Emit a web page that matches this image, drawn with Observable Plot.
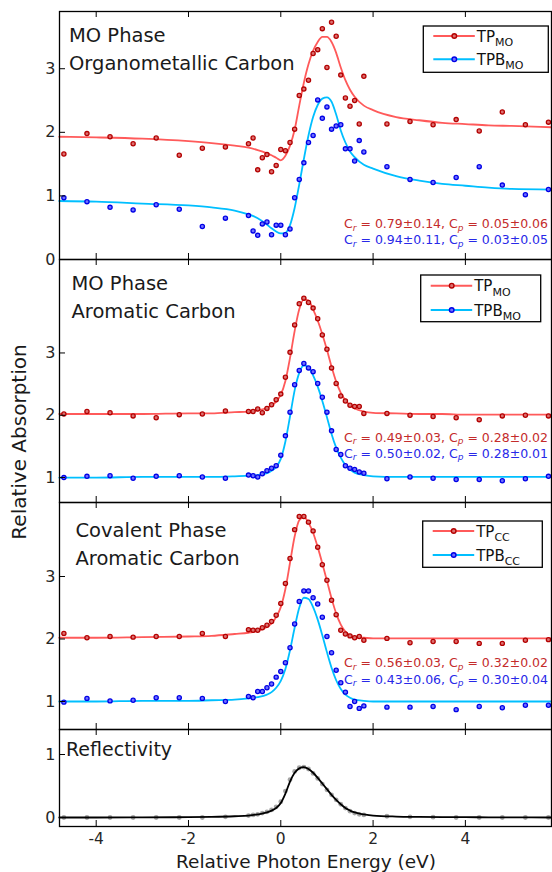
<!DOCTYPE html>
<html><head><meta charset="utf-8">
<script src="https://cdn.jsdelivr.net/npm/d3@7"></script>
<script src="https://cdn.jsdelivr.net/npm/@observablehq/plot@0.6"></script>
<style>
body{margin:0;background:#fff;}
#wrap{position:relative;width:552px;height:872px;overflow:hidden;font-family:"DejaVu Sans",sans-serif;background:#fff;}
</style></head><body><div id="wrap"></div>
<script>
// ---------- data ----------
const energy = [-4.7,-4.2,-3.7,-3.2,-2.7,-2.2,-1.7,-1.2,
  -0.7,-0.6,-0.5,-0.4,-0.3,-0.2,-0.1,0,0.1,0.2,0.3,0.4,0.5,0.6,0.7,0.8,0.9,1.0,1.1,1.2,1.3,1.4,1.5,1.6,1.7,1.8,
  2.3,2.8,3.3,3.8,4.3,4.8,5.3,5.8];
const tpMO_org  = [1.66,1.98,1.93,1.82,1.91,1.64,1.75,1.77, 1.82,1.91,1.41,1.60,1.65,1.38,1.48,1.73,1.71,1.84, 2.05,2.58,2.68,2.82,3.24,3.30,3.63,3.02,3.73,3.51, 2.90,2.54,2.41,2.50,2.13,2.88, 2.13,2.17,2.12,2.20,2.02,2.32,2.12,2.16];
const tpbMO_org = [0.97,0.91,0.82,0.78,0.86,0.79,0.52,0.65, 0.69,0.45,0.38,0.56,0.59,0.39,0.54,0.54,0.39,0.48, 0.97,1.26,1.52,1.84,1.95,2.51,2.22,2.40,2.05,2.10, 2.12,1.74,1.74,1.55,1.87,1.69, 1.46,1.26,1.21,1.29,1.46,1.17,1.02,1.10];
const tpMO_aro  = [2.02,2.06,2.04,1.99,1.96,2.01,2.02,2.07, 2.06,2.06,2.10,2.04,2.11,2.17,2.25,2.34,2.61,3.01, 3.45,3.79,3.88,3.81,3.72,3.55,3.29,3.06,2.76,2.51, 2.31,2.23,2.16,2.14,2.14,2.03, 2.03,2.00,1.98,1.96,1.93,1.99,2.00,1.99];
const tpbMO_aro = [1.00,1.02,1.03,0.99,1.02,1.03,1.01,0.99, 1.04,1.03,1.01,1.06,1.11,1.15,1.19,1.36,1.67,2.05, 2.49,2.72,2.83,2.76,2.70,2.51,2.29,2.05,1.75,1.45, 1.37,1.19,1.15,1.13,1.09,1.07, 0.98,1.01,0.99,0.97,0.97,0.95,0.98,1.02];
const tpCC_aro  = [2.09,2.02,2.04,2.03,2.04,2.04,2.09,2.04, 2.15,2.14,2.14,2.18,2.22,2.28,2.38,2.57,2.89,3.29, 3.75,3.96,3.96,3.87,3.73,3.47,3.19,2.94,2.62,2.39, 2.14,2.08,2.05,2.02,2.04,1.98, 2.01,1.94,1.96,1.96,1.93,1.93,1.98,1.99];
const tpbCC_aro = [0.99,1.05,1.01,1.02,1.06,1.06,1.05,1.00, 1.08,1.06,1.16,1.16,1.22,1.28,1.39,1.48,1.62,1.86, 2.24,2.60,2.77,2.77,2.66,2.56,2.35,2.04,1.78,1.50, 1.30,1.15,0.92,1.00,0.89,0.93, 0.91,0.91,0.92,0.87,0.92,0.90,0.94,0.94];
const reflectivity = [0,0,0,0,0,0,0,0.01, 0.03,0.04,0.05,0.07,0.09,0.12,0.17,0.25,0.42,0.60, 0.73,0.79,0.80,0.77,0.70,0.62,0.53,0.44,0.36,0.28, 0.21,0.15,0.10,0.07,0.05,0.04, 0.02,0.01,0.005,0,0,0,0,0];

const fitEnergy = [-4.8,-4,-3,-2,-1.5,-1, -0.7,-0.5,-0.3,-0.2,-0.1,
  0,0.1,0.2,0.3,0.4,0.5,0.6,0.7,0.8,0.9,1.0,1.1,1.2,1.3,1.4,1.5,1.6,
  1.8,2.0,2.5,3,3.5,4,4.5,5,5.86];
const tpMO_org_fit  = [1.93,1.92,1.90,1.86,1.83,1.79, 1.76,1.72,1.67,1.64,1.60, 1.56,1.63,1.79,2.04,2.42,2.78,3.07,3.28,3.42,3.50,3.50,3.42,3.25,3.02,2.82,2.67,2.56, 2.42,2.35,2.24,2.19,2.15,2.13,2.11,2.10,2.08];
const tpbMO_org_fit = [0.92,0.91,0.88,0.85,0.82,0.77, 0.71,0.65,0.55,0.49,0.44, 0.41,0.42,0.54,0.81,1.18,1.58,1.95,2.24,2.43,2.53,2.55,2.48,2.28,2.03,1.84,1.70,1.61, 1.49,1.43,1.31,1.24,1.19,1.16,1.13,1.11,1.10];
const tpMO_aro_fit  = [2.02,2.02,2.02,2.03,2.03,2.05, 2.06,2.08,2.12,2.16,2.22, 2.33,2.55,2.92,3.35,3.70,3.86,3.84,3.70,3.52,3.30,3.05,2.78,2.54,2.36,2.24,2.16,2.11, 2.06,2.04,2.03,2.02,2.02,2.01,2.01,2.01,2.01];
const tpbMO_aro_fit = [1.00,1.00,1.01,1.01,1.01,1.02, 1.03,1.04,1.07,1.11,1.17, 1.30,1.58,1.98,2.40,2.68,2.80,2.77,2.64,2.46,2.23,1.97,1.70,1.48,1.32,1.20,1.13,1.08, 1.04,1.02,1.01,1.01,1.01,1.01,1.01,1.01,1.01];
const tpCC_aro_fit  = [2.02,2.02,2.03,2.04,2.05,2.08, 2.10,2.13,2.19,2.25,2.35, 2.51,2.80,3.22,3.64,3.90,3.95,3.86,3.70,3.47,3.21,2.93,2.65,2.41,2.23,2.12,2.06,2.03, 2.02,2.01,2.01,2.01,2.01,2.01,2.01,2.01,2.01];
const tpbCC_aro_fit = [1.00,1.00,1.01,1.01,1.02,1.03, 1.05,1.07,1.11,1.15,1.22, 1.33,1.52,1.82,2.18,2.50,2.66,2.64,2.51,2.31,2.06,1.79,1.54,1.34,1.20,1.11,1.06,1.03, 1.01,1.00,1.00,1.00,1.00,1.00,1.00,1.00,1.00];
const reflectivity_fit = [0,0,0.002,0.005,0.01,0.02, 0.03,0.05,0.08,0.11,0.15, 0.23,0.38,0.57,0.71,0.78,0.80,0.77,0.71,0.63,0.54,0.45,0.36,0.28,0.21,0.15,0.11,0.08, 0.05,0.03,0.015,0.01,0.007,0.005,0.003,0.002,0];

const xTicks = [-4,-2,0,2,4];
const xDomain = [-4.795, 5.866];

// ---------- styles ----------
const RED_LINE = "#ff5a5a", BLUE_LINE = "#00bfff";
const RED_DOT = "#b30000", BLUE_DOT = "#0000e6";
const RED_FILL = "#dc7070", BLUE_FILL = "#7070ff";
const RED_TXT = "#c42b2b", BLUE_TXT = "#2828e8";

const pts = (ys) => energy.map((x, i) => ({x, y: ys[i]}));
const fit = (ys) => fitEnergy.map((x, i) => ({x, y: ys[i]}));

const wrap = document.getElementById("wrap");

function panel(cfg) {
  const W = 552, ml = 59, mr = 1;
  const innerW = W - ml - mr;
  const innerH = cfg.height - cfg.mt - cfg.mb;
  const marks = [];
  for (const s of cfg.fits) marks.push(Plot.line(fit(s.ys), {x: "x", y: "y", stroke: s.color, strokeWidth: 1.8, curve: "monotone-x"}));
  for (const s of cfg.dots) marks.push(Plot.dot(pts(s.ys), {x: "x", y: "y", r: s.r, stroke: s.stroke, fill: s.fill, strokeWidth: s.sw}));
  for (const s of (cfg.topFits || [])) marks.push(Plot.line(fit(s.ys), {x: "x", y: "y", stroke: s.color, strokeWidth: 1.8, curve: "monotone-x"}));
  marks.push(Plot.tickY(cfg.yTicks, {y: d => d, insetRight: innerW - 6, stroke: "#000"}));
  marks.push(Plot.tickX(xTicks, {x: d => d, insetBottom: innerH - 6, stroke: "#000"}));
  marks.push(Plot.tickX(xTicks, {x: d => d, insetTop: innerH - 6, stroke: "#000"}));
  marks.push(Plot.axisY(cfg.yTicks, {tickSize: 0, tickPadding: 4, fontSize: 16, color: "#262626", label: null, tickFormat: d => String(d)}));
  if (cfg.xAxis) marks.push(Plot.axisX(xTicks, {tickSize: 0, tickPadding: 6, fontSize: 15.5, color: "#262626", label: null, tickFormat: d => String(d)}));
  marks.push(Plot.frame({stroke: "#000", strokeWidth: 1.3}));
  const svg = Plot.plot({
    width: W, height: cfg.height,
    marginLeft: ml, marginRight: mr, marginTop: cfg.mt, marginBottom: cfg.mb,
    x: {domain: xDomain, axis: cfg.xAxis ? undefined : null},
    y: {domain: cfg.yDomain},
    style: {background: "transparent", overflow: "visible", fontFamily: "DejaVu Sans"},
    marks
  });
  svg.style.position = "absolute";
  svg.style.left = "0px";
  svg.style.top = cfg.top + "px";
  wrap.appendChild(svg);
}

const redDots = ys => ({ys, r: 2.1, stroke: RED_DOT, fill: RED_FILL, sw: 1.3});
const blueDots = ys => ({ys, r: 2.1, stroke: BLUE_DOT, fill: BLUE_FILL, sw: 1.3});

panel({top: 0, height: 259, mt: 11, mb: 0, yDomain: [0, 3.9], yTicks: [0,1,2,3],
  fits: [{ys: tpMO_org_fit, color: RED_LINE}, {ys: tpbMO_org_fit, color: BLUE_LINE}],
  dots: [redDots(tpMO_org), blueDots(tpbMO_org)]});
panel({top: 259, height: 243, mt: 0, mb: 0, yDomain: [0.6, 4.5], yTicks: [1,2,3],
  fits: [{ys: tpMO_aro_fit, color: RED_LINE}, {ys: tpbMO_aro_fit, color: BLUE_LINE}],
  dots: [redDots(tpMO_aro), blueDots(tpbMO_aro)]});
panel({top: 502, height: 227, mt: 0, mb: 0, yDomain: [0.552, 4.184], yTicks: [1,2,3],
  fits: [{ys: tpCC_aro_fit, color: RED_LINE}, {ys: tpbCC_aro_fit, color: BLUE_LINE}],
  dots: [redDots(tpCC_aro), blueDots(tpbCC_aro)]});
panel({top: 729, height: 143, mt: 0, mb: 46, yDomain: [-0.143, 1.397], yTicks: [0,1], xAxis: true,
  fits: [],
  dots: [{ys: reflectivity, r: 2.4, stroke: "none", fill: "#a6a6a6", sw: 0}],
  topFits: [{ys: reflectivity_fit, color: "#000"}]});

// ---------- annotations, legends, labels ----------
function legend(x0, y0, w, h, rows) {
  let s = `<rect x="${x0}" y="${y0}" width="${w}" height="${h}" fill="#fff" stroke="#000" stroke-width="1.3"/>`;
  for (const r of rows) {
    s += `<line x1="${x0+10}" x2="${x0+51.5}" y1="${r.y}" y2="${r.y}" stroke="${r.line}" stroke-width="2"/>`;
    s += `<circle cx="${x0+31}" cy="${r.y}" r="2.3" fill="${r.fill}" stroke="${r.dot}" stroke-width="1.4"/>`;
    s += `<text x="${x0+53.5}" y="${r.y+5.5}" font-size="15" fill="#111">${r.main}<tspan font-size="11" dy="4.5">${r.sub}</tspan></text>`;
  }
  return s;
}
function coef(xr, y, color, cr, cp) {
  return `<text x="${xr}" y="${y}" text-anchor="end" font-size="12.5" fill="${color}">C<tspan font-size="9" font-style="italic" dy="2.5">r</tspan><tspan dy="-2.5"> = ${cr}, C</tspan><tspan font-size="9" font-style="italic" dy="2.5">p</tspan><tspan dy="-2.5"> = ${cp}</tspan></text>`;
}
const T = (x, y, t, fs = 19.5) => `<text x="${x}" y="${y}" font-size="${fs}" fill="#1a1a1a">${t}</text>`;

let ov = `<svg xmlns="http://www.w3.org/2000/svg" width="552" height="872" style="position:absolute;left:0;top:0" font-family="DejaVu Sans">`;
ov += T(69, 42, "MO Phase") + T(69, 70, "Organometallic Carbon");
ov += T(71.5, 290, "MO Phase") + T(71.5, 318, "Aromatic Carbon");
ov += T(75.5, 536.5, "Covalent Phase") + T(75.5, 564.5, "Aromatic Carbon");
ov += T(66, 756, "Reflectivity", 19);
ov += legend(423.3, 26, 125, 46.3, [
  {y: 36, line: RED_LINE, dot: RED_DOT, fill: RED_FILL, main: "TP", sub: "MO"},
  {y: 59.3, line: BLUE_LINE, dot: BLUE_DOT, fill: BLUE_FILL, main: "TPB", sub: "MO"}]);
ov += legend(420.7, 275, 120, 46.7, [
  {y: 285.7, line: RED_LINE, dot: RED_DOT, fill: RED_FILL, main: "TP", sub: "MO"},
  {y: 310, line: BLUE_LINE, dot: BLUE_DOT, fill: BLUE_FILL, main: "TPB", sub: "MO"}]);
ov += legend(422.7, 521, 119.6, 46.3, [
  {y: 531, line: RED_LINE, dot: RED_DOT, fill: RED_FILL, main: "TP", sub: "CC"},
  {y: 555, line: BLUE_LINE, dot: BLUE_DOT, fill: BLUE_FILL, main: "TPB", sub: "CC"}]);
ov += coef(548, 228.3, RED_TXT, "0.79±0.14", "0.05±0.06");
ov += coef(548, 244.3, BLUE_TXT, "0.94±0.11", "0.03±0.05");
ov += coef(548, 441.7, RED_TXT, "0.49±0.03", "0.28±0.02");
ov += coef(548, 457.5, BLUE_TXT, "0.50±0.02", "0.28±0.01");
ov += coef(548, 667, RED_TXT, "0.56±0.03", "0.32±0.02");
ov += coef(548, 683.5, BLUE_TXT, "0.43±0.06", "0.30±0.04");
ov += `<text transform="translate(26,442) rotate(-90)" text-anchor="middle" font-size="20" fill="#1a1a1a">Relative Absorption</text>`;
ov += `<text x="306" y="867.5" text-anchor="middle" font-size="18.5" fill="#1a1a1a">Relative Photon Energy (eV)</text>`;
ov += `</svg>`;
wrap.insertAdjacentHTML("beforeend", ov);
</script></body></html>
